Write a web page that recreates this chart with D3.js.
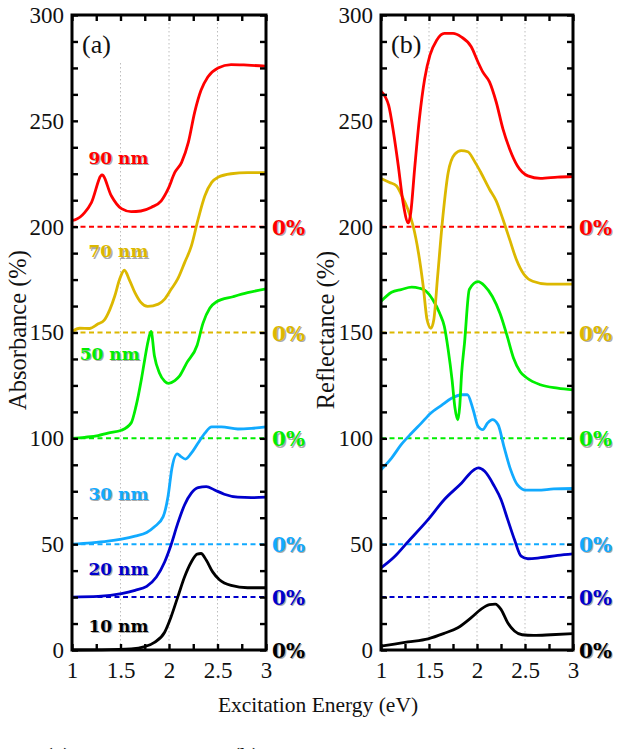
<!DOCTYPE html>
<html>
<head>
<meta charset="utf-8">
<script src="https://cdn.jsdelivr.net/npm/d3@7"></script>
<style>
  body { margin: 0; background: #fff; }
  svg { display: block; }
</style>
</head>
<body>
<svg id="chart"></svg>
<script>
// film thicknesses, stacked with these vertical offsets (%)
var thickness = ["10 nm", "20 nm", "30 nm", "50 nm", "70 nm", "90 nm"]
var offsets = [0, 25, 50, 100, 150, 200]
var xTicks = [1, 1.5, 2, 2.5, 3]
var yTicks = [0, 50, 100, 150, 200, 250, 300]

// (a) absorbance, value above its own 0% line
var absE10 = [1, 1.3, 1.61, 1.75, 1.85, 1.955, 2.02, 2.09, 2.16, 2.23, 2.29, 2.33, 2.385, 2.45, 2.52, 2.64, 2.81, 3]
var absV10 = [0, 0.1, 0.5, 1.6, 3.6, 8.4, 15.5, 25, 34.5, 41.6, 45.3, 45.6, 42.4, 36.9, 33.2, 30.5, 29.4, 29.4]
var absE20 = [1, 1.27, 1.51, 1.65, 1.77, 1.87, 1.955, 2.02, 2.09, 2.16, 2.23, 2.3, 2.385, 2.47, 2.57, 2.71, 2.85, 3]
var absV20 = [0, 0.3, 1.6, 3.2, 5.1, 9.5, 16.6, 24.5, 34.8, 43.5, 49.1, 51.7, 52.2, 50.6, 48.6, 47.2, 47, 47.2]
var absE30 = [1, 1.2, 1.37, 1.51, 1.65, 1.77, 1.85, 1.94, 1.99, 2.03, 2.085, 2.12, 2.17, 2.23, 2.3, 2.37, 2.44, 2.54, 2.71, 2.85, 3]
var absV30 = [0, 0.6, 1.4, 2.4, 3.8, 5.5, 8.2, 13, 22.5, 35.9, 42.7, 41.5, 40.2, 43, 47.8, 52.5, 55.4, 55.4, 54.4, 54.7, 55.4]
var absE50 = [1, 1.13, 1.27, 1.37, 1.51, 1.61, 1.66, 1.715, 1.75, 1.785, 1.815, 1.85, 1.9, 1.955, 1.995, 2.06, 2.11, 2.18, 2.29, 2.35, 2.42, 2.49, 2.66, 2.81, 3]
var absV50 = [0, 0.5, 1.3, 2.5, 3.8, 7.3, 15.2, 27.8, 37.3, 46, 50.5, 38.9, 31, 27, 26, 27.3, 29.5, 35.4, 44, 54.3, 61.4, 64.5, 66.9, 68.8, 70.6]
var absE70 = [1, 1.08, 1.18, 1.27, 1.33, 1.39, 1.44, 1.49, 1.54, 1.59, 1.65, 1.71, 1.78, 1.89, 1.955, 2.02, 2.09, 2.16, 2.23, 2.3, 2.37, 2.44, 2.505, 2.64, 2.81, 3]
var absV70 = [0.5, 2, 1.9, 4.1, 5.7, 10.8, 17.1, 25, 29.4, 25, 18.7, 14.2, 12.3, 13.4, 15.8, 20.3, 25.3, 32.9, 40.8, 53.5, 64.6, 70.9, 73.3, 75, 75.5, 75.5]
var absE90 = [1, 1.03, 1.13, 1.2, 1.31, 1.405, 1.51, 1.61, 1.71, 1.82, 1.92, 1.99, 2.06, 2.13, 2.2, 2.265, 2.33, 2.4, 2.505, 2.64, 2.81, 3]
var absV90 = [3, 3.2, 6.6, 11.4, 24.4, 14.6, 8.5, 7.1, 7.4, 9.2, 12.2, 17.7, 25.6, 30.4, 39.9, 54.1, 64.4, 70.7, 75, 76.6, 76.3, 75.8]

// (b) reflectance, value above its own 0% line
var refE10 = [1, 1.28, 1.49, 1.66, 1.8, 1.94, 2.04, 2.13, 2.19, 2.25, 2.32, 2.39, 2.47, 2.59, 2.77, 3]
var refV10 = [1.8, 3.8, 5.3, 7.9, 10.5, 15.3, 19.2, 21.4, 21.7, 19.2, 12.9, 9, 7.2, 6.9, 7.2, 7.7]
var refE20 = [1, 1.145, 1.27, 1.49, 1.66, 1.84, 1.97, 2.015, 2.08, 2.18, 2.25, 2.32, 2.39, 2.46, 2.53, 2.66, 2.84, 3]
var refV20 = [13.8, 19.3, 25.6, 36.6, 46.1, 53.9, 60.2, 61, 59.4, 52.4, 46.1, 36.6, 27.2, 19.3, 18.1, 18.6, 19.7, 20.4]
var refE30 = [1, 1.11, 1.21, 1.32, 1.42, 1.52, 1.63, 1.73, 1.84, 1.9, 1.96, 2.01, 2.06, 2.11, 2.16, 2.22, 2.28, 2.35, 2.42, 2.51, 2.63, 2.8, 3]
var refV30 = [35.2, 40.7, 47, 52.5, 57.2, 62, 65.6, 68.8, 70.6, 70.6, 63.5, 55.7, 54.1, 57.2, 58.8, 56.4, 46.2, 35.2, 28.1, 25.5, 25.5, 26.1, 26.3]
var refE50 = [1, 1.11, 1.21, 1.32, 1.4, 1.47, 1.54, 1.61, 1.66, 1.7, 1.74, 1.77, 1.8, 1.82, 1.84, 1.87, 1.92, 2.01, 2.08, 2.16, 2.24, 2.31, 2.38, 2.45, 2.52, 2.66, 2.84, 3]
var refV50 = [64.7, 69, 70.3, 71.4, 70.9, 69.5, 65.5, 59.2, 52.8, 41.8, 27.7, 14.5, 8.7, 15.1, 30.8, 45, 70.3, 74, 72, 67, 59, 49, 38, 31.5, 28.5, 25.3, 23.7, 22.9]
var refE70 = [1, 1.09, 1.16, 1.21, 1.28, 1.335, 1.39, 1.44, 1.48, 1.52, 1.55, 1.59, 1.645, 1.7, 1.77, 1.835, 1.905, 1.97, 2.04, 2.13, 2.2, 2.27, 2.34, 2.41, 2.49, 2.58, 2.73, 3]
var refV70 = [72.8, 70.9, 69.3, 65.3, 58.2, 50.3, 37.7, 21.8, 6, 2, 6, 26.6, 55, 75.6, 84.3, 85.9, 85.4, 81.2, 75.6, 67.7, 62.2, 53.5, 44, 34.5, 27.4, 24.2, 22.9, 22.9]
var refE90 = [1, 1.08, 1.13, 1.18, 1.23, 1.285, 1.31, 1.35, 1.4, 1.455, 1.51, 1.58, 1.66, 1.75, 1.835, 1.94, 2.01, 2.06, 2.13, 2.2, 2.27, 2.34, 2.42, 2.53, 2.66, 2.84, 3]
var refV90 = [64, 57.3, 44.6, 28.8, 11.4, 1.8, 6.6, 27.2, 51, 69.9, 81, 88.1, 91.3, 91.3, 89.7, 85, 77.8, 73.1, 68.4, 58.9, 46.2, 36.7, 28.8, 24, 22.8, 23.4, 23.7]

var colors = ["#000000", "#0000cc", "#11aaff", "#00ee00", "#dcb800", "#ff0000"]

var absorbance = [[absE10, absV10], [absE20, absV20], [absE30, absV30], [absE50, absV50], [absE70, absV70], [absE90, absV90]]
var reflectance = [[refE10, refV10], [refE20, refV20], [refE30, refV30], [refE50, refV50], [refE70, refV70], [refE90, refV90]]

// where the thickness labels sit in panel (a), in data units (energy, %)
var labelE = [1.17, 1.17, 1.17, 1.08, 1.17, 1.17]
var labelV = [8.5, 35.5, 71, 137, 185.5, 229.5]

var width = 622
var height = 749
var serif = "'Liberation Serif', 'DejaVu Serif', serif"
var boldSerif = "'DejaVu Serif', serif"

var svg = d3.select('#chart').attr('width', width).attr('height', height)

var y = d3.scaleLinear().domain([0, 300]).range([650, 15])

function shadowText(g, x, yPos, txt, color, size) {
  g.append('text').attr('x', x + 1.2).attr('y', yPos + 1.2)
    .attr('font-family', boldSerif).attr('font-weight', 'bold').attr('font-size', size)
    .attr('fill', '#aaaaaa').text(txt)
  g.append('text').attr('x', x).attr('y', yPos)
    .attr('font-family', boldSerif).attr('font-weight', 'bold').attr('font-size', size)
    .attr('fill', color).text(txt)
}

function drawPanel(x, series, tag, yTitle, titleX, showLabels, boxW) {
  var g = svg.append('g')
  var x0 = x.range()[0], x1 = x.range()[1]

  // dotted grid
  g.selectAll('.grid').data([1.5, 2, 2.5]).enter().append('line')
    .attr('x1', function (d) { return x(d) }).attr('x2', function (d) { return x(d) })
    .attr('y1', y(300)).attr('y2', y(0))
    .attr('stroke', '#bdbdbd').attr('stroke-width', 1).attr('stroke-dasharray', '1.5,2.5')

  // white box behind the panel tag
  g.append('rect').attr('x', x0 + 2).attr('y', y(300) + 2).attr('width', boxW).attr('height', 45).attr('fill', '#fff')

  // 0% reference lines
  offsets.forEach(function (off, i) {
    if (off === 0) return
    g.append('line').attr('x1', x0).attr('x2', x1).attr('y1', y(off)).attr('y2', y(off))
      .attr('stroke', colors[i]).attr('stroke-width', 2).attr('stroke-dasharray', '5,3.5')
  })

  var line = d3.line()
    .x(function (d) { return x(d[0]) })
    .y(function (d) { return y(d[1]) })
    .curve(d3.curveMonotoneX)

  series.forEach(function (s, i) {
    var pts = s[0].map(function (e, k) { return [e, s[1][k] + offsets[i]] })
    g.append('path').datum(pts).attr('d', line)
      .attr('fill', 'none').attr('stroke', colors[i]).attr('stroke-width', 2.8)
      .attr('stroke-linejoin', 'round')
  })

  // axes, ticks pointing inward
  var xt = d3.range(1, 3.001, 0.25)
  var yt = d3.range(0, 300.1, 12.5)
  var bottom = g.append('g').attr('transform', 'translate(0,' + y(0) + ')')
    .call(d3.axisBottom(x).tickValues(xt).tickSize(-6).tickPadding(12)
      .tickFormat(function (d) { return xTicks.indexOf(d) >= 0 ? String(d) : '' }))
  var top = g.append('g').attr('transform', 'translate(0,' + y(300) + ')')
    .call(d3.axisTop(x).tickValues(xt).tickSize(-6).tickFormat(''))
  var left = g.append('g').attr('transform', 'translate(' + x0 + ',0)')
    .call(d3.axisLeft(y).tickValues(yt).tickSize(-6).tickPadding(8)
      .tickFormat(function (d) { return yTicks.indexOf(d) >= 0 ? String(d) : '' }))
  var right = g.append('g').attr('transform', 'translate(' + x1 + ',0)')
    .call(d3.axisRight(y).tickValues(yt).tickSize(-6).tickFormat(''))

  ;[bottom, top, left, right].forEach(function (a) {
    a.select('.domain').remove()
    a.selectAll('line').attr('stroke', '#000').attr('stroke-width', 2.4)
    a.selectAll('text').attr('font-family', serif).attr('font-size', 23).attr('fill', '#111')
  })

  g.append('rect').attr('x', x0).attr('y', y(300)).attr('width', x1 - x0).attr('height', y(0) - y(300))
    .attr('fill', 'none').attr('stroke', '#000').attr('stroke-width', 3)

  g.append('text').attr('x', x0 + 10).attr('y', 53)
    .attr('font-family', serif).attr('font-size', 26).attr('fill', '#111').text(tag)

  g.append('text').attr('transform', 'translate(' + titleX + ',330) rotate(-90)')
    .attr('text-anchor', 'middle').attr('font-family', serif).attr('font-size', 24.5)
    .attr('fill', '#111').text(yTitle)

  // 0% markers on the right
  offsets.forEach(function (off, i) {
    shadowText(g, x1 + 6, y(off) + 8, '0%', colors[i], 20)
  })

  if (showLabels) {
    thickness.forEach(function (t, i) {
      shadowText(g, x(labelE[i]), y(labelV[i]), t, colors[i], 17)
    })
  }
}

var xA = d3.scaleLinear().domain([1, 3]).range([72, 266])
var xB = d3.scaleLinear().domain([1, 3]).range([381, 573])

drawPanel(xA, absorbance, '(a)', 'Absorbance (%)', 26, true, 50)
drawPanel(xB, reflectance, '(b)', 'Reflectance (%)', 334, false, 44)

svg.append('text').attr('x', 318).attr('y', 712).attr('text-anchor', 'middle')
  .attr('font-family', serif).attr('font-size', 21.5).attr('fill', '#111')
  .text('Excitation Energy (eV)')

// sub-figure captions, cut off by the bottom edge as in the source
svg.append('text').attr('x', 58).attr('y', 764).attr('text-anchor', 'middle')
  .attr('font-family', serif).attr('font-size', 24).attr('fill', '#111').text('(a)')
svg.append('text').attr('x', 246).attr('y', 764).attr('text-anchor', 'middle')
  .attr('font-family', serif).attr('font-size', 24).attr('fill', '#111').text('(b)')
</script>
</body>
</html>
